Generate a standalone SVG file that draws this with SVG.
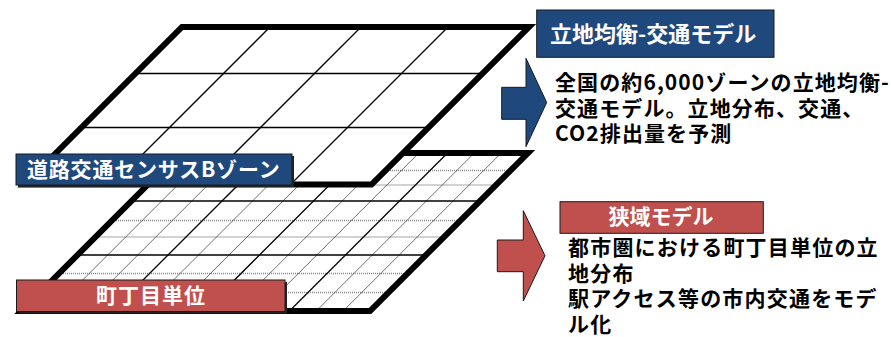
<svg xmlns="http://www.w3.org/2000/svg" width="891" height="337" viewBox="0 0 891 337">
<style>
.border{fill:none;stroke:#000;stroke-width:6;stroke-linejoin:miter}
.major{stroke:#000;stroke-width:1.3;fill:none}
.minor{stroke:#333;stroke-width:0.7;fill:none}
.dot{stroke:#888;stroke-width:1.6;stroke-dasharray:1 1;fill:none}
.lbl{font-family:"Noto Sans CJK JP","Noto Sans",sans-serif;font-weight:bold;fill:#fff}
.body{font-family:"Noto Sans CJK JP","Noto Sans",sans-serif;font-weight:bold;fill:#000;font-size:21px}
.blue{fill:#1F497D;stroke:#1a1a1a;stroke-width:1}
.red{fill:#C0504D;stroke:#1a1a1a;stroke-width:1}
.shadow{fill:#222}
</style>

<g id="lower-grid">
  <polygon points="179.5,153 528,153 370,311 21.5,311" fill="#fff"/>
  <g class="dot">
    <line x1="162" y1="170.5" x2="510.5" y2="170.5"/>
    <line x1="147.5" y1="185" x2="496" y2="185"/>
    <line x1="112" y1="220.5" x2="460.5" y2="220.5"/>
    <line x1="95.5" y1="237" x2="444" y2="237"/>
    <line x1="59" y1="273.5" x2="407.5" y2="273.5"/>
    <line x1="40" y1="292.5" x2="388.5" y2="292.5"/>
  </g>
  <g class="minor">
    <line x1="209.7" y1="153" x2="51.7" y2="311"/>
    <line x1="239.8" y1="153" x2="81.8" y2="311"/>
    <line x1="300.5" y1="153" x2="142.5" y2="311"/>
    <line x1="331" y1="153" x2="173" y2="311"/>
    <line x1="390.2" y1="153" x2="232.2" y2="311"/>
    <line x1="418.8" y1="153" x2="260.8" y2="311"/>
    <line x1="474.3" y1="153" x2="316.3" y2="311"/>
    <line x1="501.2" y1="153" x2="343.2" y2="311"/>
  </g>
  <g class="major">
    <line x1="131.5" y1="201" x2="480" y2="201"/>
    <line x1="77.5" y1="255" x2="426" y2="255"/>
    <line x1="270" y1="153" x2="112" y2="311"/>
    <line x1="361.5" y1="153" x2="203.5" y2="311"/>
    <line x1="447.5" y1="153" x2="289.5" y2="311"/>
  </g>
  <polygon class="border" points="179.5,153 528,153 370,311 21.5,311"/>
</g>

<g id="upper-grid">
  <polygon points="182,27 529,27 371.5,184.5 24.5,184.5" fill="#fff"/>
  <g class="major">
    <line x1="135.5" y1="73.5" x2="482.5" y2="73.5"/>
    <line x1="81.5" y1="127.5" x2="428.5" y2="127.5"/>
    <line x1="270" y1="27" x2="112.5" y2="184.5"/>
    <line x1="361" y1="27" x2="203.5" y2="184.5"/>
    <line x1="448" y1="27" x2="290.5" y2="184.5"/>
  </g>
  <polygon class="border" points="182,27 529,27 371.5,184.5 24.5,184.5"/>
</g>

<g id="label-census">
  <rect class="shadow" x="18" y="156" width="276" height="31"/>
  <rect class="blue" x="16" y="154" width="276" height="31"/>
  <text class="lbl" x="27" y="177" font-size="21" letter-spacing="0.8">道路交通センサスBゾーン</text>
</g>

<g id="label-chome">
  <rect class="shadow" x="18.5" y="282" width="268.5" height="31.5"/>
  <rect class="red" x="16.5" y="280" width="268.5" height="31.5"/>
  <text class="lbl" x="151" y="303" font-size="21" letter-spacing="1" text-anchor="middle">町丁目単位</text>
</g>

<g id="connectors">
  <polygon class="blue" points="501.7,87.3 526,87.3 526,58.3 546.7,102.5 526,146.7 526,119.3 501.7,119.3"/>
  <polygon class="red" points="497.3,240 523.3,240 523.3,210.7 545,255.8 523.3,300.9 523.3,271.7 497.3,271.7"/>
</g>

<g id="title-national">
  <rect class="blue" x="536.7" y="10" width="237.3" height="47.3"/>
  <text class="lbl" x="550" y="42" font-size="22">立地均衡-交通モデル</text>
</g>

<g id="desc-national">
  <text class="body" x="555" y="90" letter-spacing="1.1">全国の約6,000ゾーンの立地均衡-</text>
  <text class="body" x="555" y="115.5" letter-spacing="1.1">交通モデル。立地分布、交通、</text>
  <text class="body" x="555" y="141" letter-spacing="1.1">CO2排出量を予測</text>
</g>

<g id="title-local">
  <rect class="red" x="560" y="201.7" width="203.3" height="31.6"/>
  <text class="lbl" x="661" y="224" font-size="21" text-anchor="middle">狭域モデル</text>
</g>

<g id="desc-local">
  <text class="body" x="568" y="255" letter-spacing="1.2">都市圏における町丁目単位の立</text>
  <text class="body" x="568" y="280.5" letter-spacing="1.2">地分布</text>
  <text class="body" x="568" y="306" letter-spacing="1.2">駅アクセス等の市内交通をモデ</text>
  <text class="body" x="568" y="332" letter-spacing="1.2">ル化</text>
</g>
</svg>
